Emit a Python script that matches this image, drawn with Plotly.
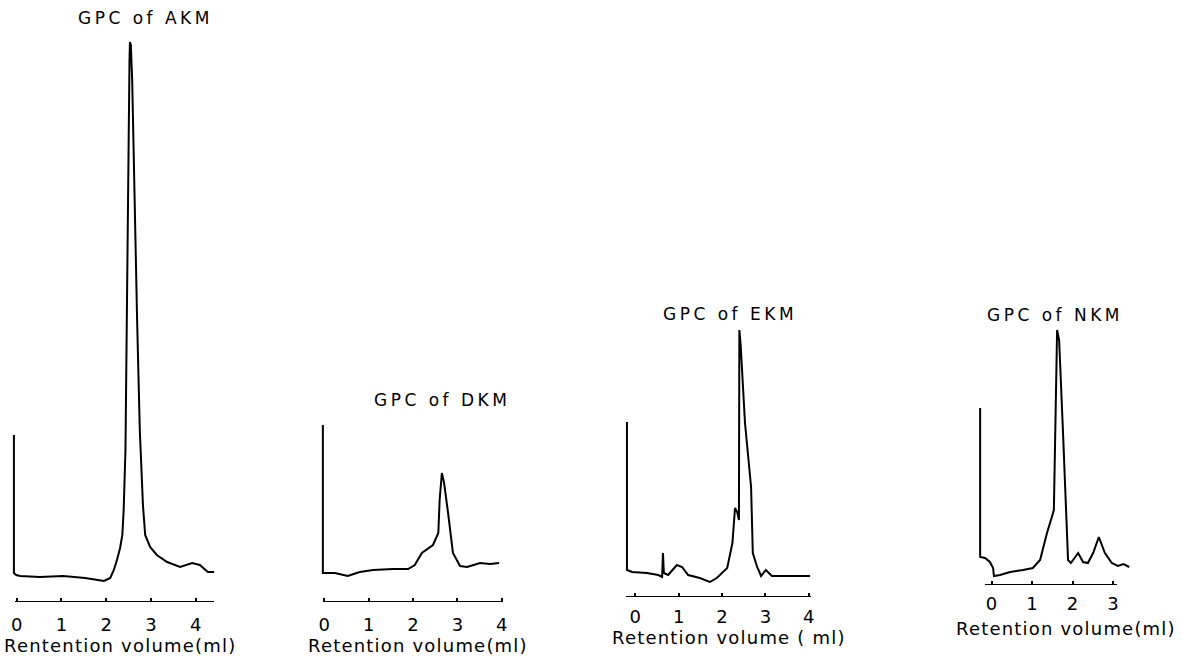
import plotly.graph_objects as go

# ---------------- data (retention volume in ml, detector response in arb. units) ----------------
akm_x = [-0.06, -0.06, -0.01, 0.08, 0.52, 1.04, 1.53, 1.95, 2.09, 2.17, 2.24, 2.31, 2.36, 2.39,
         2.43, 2.46, 2.50, 2.52, 2.53, 2.55, 2.58, 2.62, 2.69, 2.75, 2.82, 2.87, 2.98, 3.13,
         3.36, 3.65, 3.92, 4.09, 4.27, 4.41]
akm_y = [167, 29, 27, 26, 25, 26, 24, 21, 24, 32, 42, 54, 67, 92,
         152, 302, 452, 542, 560, 557, 522, 422, 282, 172, 97, 67, 55, 47,
         40, 35, 39, 37, 30, 30]

dkm_x = [-0.03, -0.03, 0.02, 0.24, 0.53, 0.80, 1.10, 1.55, 1.89, 2.04, 2.20, 2.45, 2.57, 2.60,
         2.65, 2.70, 2.79, 2.90, 3.06, 3.22, 3.51, 3.74, 3.94]
dkm_y = [177, 29, 29, 29, 26, 30, 32, 33, 33, 37, 49, 57, 69, 102,
         129, 119, 89, 49, 36, 35, 39, 38, 39]

ekm_x = [-0.19, -0.19, -0.07, 0.27, 0.53, 0.62, 0.64, 0.66, 0.76, 0.96, 1.08, 1.22, 1.49, 1.72,
         1.88, 2.12, 2.24, 2.30, 2.35, 2.39, 2.40, 2.43, 2.53, 2.67, 2.71, 2.81, 2.90, 3.01,
         3.15, 3.33, 4.03]
ekm_y = [175, 27, 25, 24, 22, 20, 44, 24, 22, 32, 30, 22, 19, 15,
         19, 29, 54, 89, 85, 77, 267, 252, 174, 110, 44, 30, 21, 27,
         21, 21, 21]

nkm_x = [-0.28, -0.28, -0.16, -0.04, 0.04, 0.06, 0.21, 0.46, 0.78, 1.02, 1.20, 1.37, 1.49, 1.54,
         1.62, 1.67, 1.77, 1.89, 1.96, 2.14, 2.26, 2.38, 2.51, 2.65, 2.80, 2.97, 3.12, 3.26, 3.40]
nkm_y = [177, 28, 27, 23, 17, 9, 10, 13, 15, 17, 25, 52, 68, 75,
         255, 245, 148, 25, 22, 32, 23, 22, 32, 48, 32, 22, 19, 21, 18]

titles = ["GPC of AKM", "GPC of DKM", "GPC of EKM", "GPC of NKM"]
xlabels = ["Rentention volume(ml)", "Retention volume(ml)",
           "Retention volume ( ml)", "Retention volume(ml)"]
ticks_akm = [0, 1, 2, 3, 4]
ticks_dkm = [0, 1, 2, 3, 4]
ticks_ekm = [0, 1, 2, 3, 4]
ticks_nkm = [0, 1, 2, 3]

# ---------------- layout geometry (pixels in a 1182 x 660 page) ----------------
W, H = 1182, 660
FONT = "DejaVu Sans"

panels = [
    dict(x=akm_x, y=akm_y, ticks=ticks_akm, left=10, right=217, x0=16.6, unit=44.8, base=602, top=30,
         line=(15, 214), title=(145, 18), label=(120, 645), standoff=10),
    dict(x=dkm_x, y=dkm_y, ticks=ticks_dkm, left=318, right=507, x0=324.2, unit=44.4, base=602, top=415,
         line=(323, 503), title=(442, 400), label=(418, 645), standoff=10),
    dict(x=ekm_x, y=ekm_y, ticks=ticks_ekm, left=620, right=815, x0=635.2, unit=43.4, base=597, top=318,
         line=(626, 811), title=(730, 314), label=(729, 637), standoff=7),
    dict(x=nkm_x, y=nkm_y, ticks=ticks_nkm, left=974, right=1134, x0=991.5, unit=40.5, base=585, top=318,
         line=(985, 1117), title=(1055, 315), label=(1066, 628), standoff=6),
]

fig = go.Figure()
layout = dict(
    width=W, height=H, margin=dict(l=0, r=0, t=0, b=0),
    paper_bgcolor="white", plot_bgcolor="white", showlegend=False,
    font=dict(family=FONT, color="black"),
    shapes=[], annotations=[],
)


def spaced(text, px):
    return '<span style="letter-spacing:%spx">%s</span>' % (px, text)


for i, p in enumerate(panels):
    n = "" if i == 0 else str(i + 1)
    xa, ya = "x" + n, "y" + n
    fig.add_trace(go.Scatter(x=p["x"], y=p["y"], mode="lines", xaxis=xa, yaxis=ya,
                             line=dict(color="black", width=2), hoverinfo="skip"))
    xr = [(p["left"] - p["x0"]) / p["unit"], (p["right"] - p["x0"]) / p["unit"]]
    layout["xaxis" + n] = dict(
        domain=[p["left"] / W, p["right"] / W], range=xr, anchor=ya,
        showgrid=False, zeroline=False, showline=False,
        tickmode="array", tickvals=p["ticks"], ticktext=[str(t) for t in p["ticks"]],
        ticks="inside", ticklen=4, tickwidth=1.5, tickcolor="black",
        tickfont=dict(family=FONT, size=18, color="black"), ticklabelstandoff=p["standoff"],
        fixedrange=True,
    )
    layout["yaxis" + n] = dict(
        domain=[(H - p["base"]) / H, (H - p["top"]) / H], range=[0, p["base"] - p["top"]],
        anchor=xa, visible=False, fixedrange=True,
    )
    lx0 = (p["line"][0] - p["x0"]) / p["unit"]
    lx1 = (p["line"][1] - p["x0"]) / p["unit"]
    layout["shapes"].append(dict(type="line", xref=xa, yref=ya, x0=lx0, x1=lx1, y0=0, y1=0,
                                 line=dict(color="black", width=2)))
    layout["annotations"].append(dict(text=spaced(titles[i], 3.5), xref="paper", yref="paper",
                                      x=p["title"][0] / W, y=(H - p["title"][1]) / H,
                                      xanchor="center", yanchor="middle", showarrow=False,
                                      font=dict(family=FONT, size=17, color="black")))
    layout["annotations"].append(dict(text=spaced(xlabels[i], 1.2), xref="paper", yref="paper",
                                      x=p["label"][0] / W, y=(H - p["label"][1]) / H,
                                      xanchor="center", yanchor="middle", showarrow=False,
                                      font=dict(family=FONT, size=18, color="black")))

fig.update_layout(**layout)
fig.write_html("out.html")
